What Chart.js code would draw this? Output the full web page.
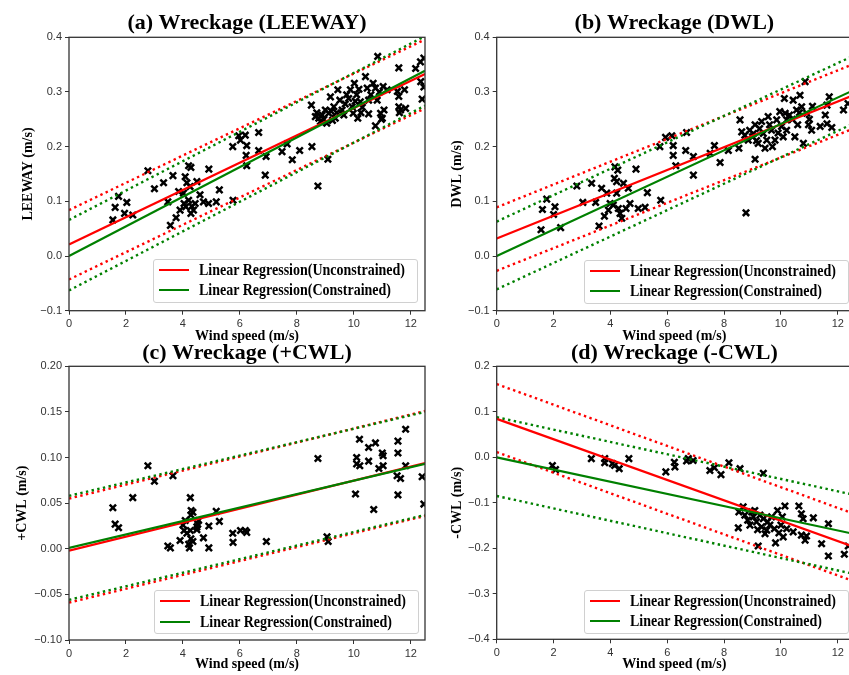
<!DOCTYPE html>
<html>
<head>
<meta charset="utf-8">
<script src="https://cdn.jsdelivr.net/npm/chart.js@4.4.1/dist/chart.umd.min.js"></script>
<style>
    html, body {
        margin: 0;
        padding: 0;
        width: 849px;
        height: 675px;
        overflow: hidden;
        background: #ffffff;
    }
    canvas {
        position: absolute;
    }
    .legend {
        position: absolute;
        box-sizing: border-box;
        width: 265px;
        height: 44px;
        border: 1px solid #d0d0d0;
        border-radius: 3px;
        background: rgba(255, 255, 255, 0.85);
        font: bold 16px "Liberation Serif", "Times New Roman", serif;
        color: #000;
    }
    .legend .row {
        position: absolute;
        left: 0;
        height: 20px;
        line-height: 20px;
        white-space: nowrap;
    }
    .legend .swatch {
        position: absolute;
        left: 5px;
        top: 9px;
        width: 30px;
        height: 2px;
    }
    .legend .text {
        position: absolute;
        left: 45px;
        top: 0;
        transform: scaleX(0.875);
        transform-origin: 0 50%;
    }
</style>
</head>
<body>
<canvas id="chartLeeway" width="432" height="345" style="left:0px;top:0px"></canvas>
<canvas id="chartDwl" width="432" height="345" style="left:428px;top:0px"></canvas>
<canvas id="chartPosCwl" width="432" height="345" style="left:0px;top:330px"></canvas>
<canvas id="chartNegCwl" width="432" height="345" style="left:428px;top:330px"></canvas>

<script>
// Shared x axis
const windTicks = [0, 2, 4, 6, 8, 10, 12];
const lineX = [0, 12.5];

// (a) LEEWAY
const windA = [1.54, 1.62, 1.74, 2.03, 1.95, 2.24, 2.77, 3.00, 3.32, 3.65, 3.47, 3.56, 3.76, 3.90, 3.85,
    4.08, 4.20, 4.28, 4.14, 4.25, 4.02, 4.04, 4.10, 4.20, 4.31, 4.28, 4.37, 4.43, 4.49, 4.60, 4.72, 4.90,
    4.91, 5.17, 5.28, 5.76, 5.75, 5.96, 6.02, 6.19, 6.24, 6.22, 6.24, 6.66, 6.66, 6.92, 6.89, 7.48, 7.66,
    7.84, 8.10, 8.53, 8.74, 9.09, 8.51,
    8.65, 8.77, 8.89, 8.83, 9.00, 9.12, 9.18, 9.30, 9.35, 9.44, 9.51, 9.59, 9.65, 9.82, 9.88, 9.94, 9.98,
    10.02, 10.10, 10.14, 10.18, 10.23, 10.41, 10.47, 10.52, 10.52, 10.68, 10.76, 10.82, 10.76, 10.84, 10.94,
    11.00, 11.06, 11.03, 11.17, 11.58, 11.53, 11.58, 11.64, 11.58, 11.78, 11.82, 12.17, 12.34, 12.46, 12.46, 12.40,
    8.70, 8.95, 9.05, 9.20, 9.25, 9.40, 9.70, 9.75, 10.05, 10.25, 10.30, 10.60, 10.90, 11.60, 12.35, 10.97];
const leewaySpeed = [0.066, 0.089, 0.109, 0.098, 0.078, 0.075, 0.156, 0.123, 0.134, 0.147, 0.099, 0.056, 0.070, 0.084, 0.118,
    0.145, 0.165, 0.162, 0.134, 0.127, 0.115, 0.096, 0.090, 0.102, 0.091, 0.078, 0.084, 0.096, 0.136, 0.112, 0.099, 0.096,
    0.159, 0.099, 0.121, 0.102, 0.200, 0.220, 0.212, 0.221, 0.202, 0.184, 0.165, 0.226, 0.193, 0.182, 0.148, 0.191, 0.205,
    0.176, 0.193, 0.200, 0.128, 0.177, 0.276,
    0.255, 0.252, 0.258, 0.246, 0.267, 0.261, 0.291, 0.273, 0.252, 0.304, 0.285, 0.267, 0.258, 0.288, 0.304, 0.273, 0.261,
    0.316, 0.295, 0.252, 0.305, 0.282, 0.328, 0.307, 0.285, 0.260, 0.316, 0.307, 0.285, 0.238, 0.365, 0.261,
    0.252, 0.267, 0.310, 0.304, 0.344, 0.301, 0.273, 0.267, 0.292, 0.304, 0.270, 0.343, 0.355, 0.362, 0.309, 0.287,
    0.262, 0.250, 0.243, 0.265, 0.248, 0.262, 0.278, 0.295, 0.283, 0.262, 0.272, 0.295, 0.300, 0.262, 0.319, 0.250];
const leewayTicks = [-0.1, 0.0, 0.1, 0.2, 0.3, 0.4];
const leewayUncon = [0.021, 0.333];
const leewayCon = [0.0, 0.339];
const leewayUnconUpper = [0.084, 0.396];
const leewayUnconLower = [-0.043, 0.270];
const leewayConUpper = [0.066, 0.402];
const leewayConLower = [-0.063, 0.275];

// (b) DWL
const windB = [1.56, 1.61, 1.76, 2.05, 2.00, 2.25, 2.82, 3.03, 3.34, 3.48, 3.60, 3.69, 3.79, 3.87, 3.99,
    3.93, 4.16, 4.26, 4.14, 4.22, 4.10, 4.22, 4.28, 4.40, 4.34, 4.46, 4.55, 4.63, 4.69, 4.90,
    4.98, 5.22, 5.30, 5.77, 5.74, 5.94, 6.16, 6.21, 6.21, 6.30, 6.68, 6.65, 6.92, 6.92, 7.51,
    7.66, 7.86, 8.15, 8.52, 8.56, 8.77, 9.09,
    8.62, 8.73, 8.85, 9.03, 9.09, 9.14, 9.20, 9.32, 9.38, 9.44, 9.50, 9.55, 9.67, 9.79, 9.85,
    9.96, 10.02, 10.08, 10.12, 10.15, 10.20, 10.20, 10.43, 10.49, 10.55, 10.59, 10.67, 10.73, 10.79, 10.85,
    10.91, 10.97, 11.08, 11.11, 11.38, 11.56, 11.62, 11.70, 11.62, 11.79, 12.20, 12.36,
    8.90, 9.25, 9.60, 9.90, 10.30, 10.40, 10.65, 11.00, 9.00, 9.70];
const dwlSpeed = [0.048, 0.085, 0.104, 0.090, 0.076, 0.052, 0.128, 0.098, 0.133, 0.098, 0.055, 0.124, 0.073, 0.115, 0.096,
    0.084, 0.163, 0.157, 0.142, 0.136, 0.093, 0.115, 0.087, 0.069, 0.078, 0.133, 0.087, 0.124, 0.096, 0.159,
    0.087, 0.089, 0.116, 0.102, 0.200, 0.217, 0.220, 0.202, 0.184, 0.165, 0.226, 0.193, 0.182, 0.148, 0.188,
    0.202, 0.171, 0.193, 0.197, 0.249, 0.079, 0.177,
    0.227, 0.221, 0.212, 0.224, 0.240, 0.211, 0.206, 0.246, 0.224, 0.197, 0.212, 0.255, 0.230, 0.212, 0.249,
    0.264, 0.237, 0.218, 0.288, 0.261, 0.249, 0.230, 0.285, 0.218, 0.267, 0.240, 0.294, 0.273, 0.206, 0.319,
    0.261, 0.240, 0.230, 0.274, 0.237, 0.258, 0.276, 0.291, 0.242, 0.235, 0.267, 0.279,
    0.230, 0.233, 0.240, 0.225, 0.258, 0.250, 0.262, 0.250, 0.218, 0.200];
const dwlTicks = [-0.1, 0.0, 0.1, 0.2, 0.3, 0.4];
const dwlUncon = [0.032, 0.293];
const dwlCon = [0.0, 0.302];
const dwlUnconUpper = [0.089, 0.350];
const dwlUnconLower = [-0.027, 0.232];
const dwlConUpper = [0.063, 0.365];
const dwlConLower = [-0.061, 0.241];

// (c) +CWL
const windC = [1.54, 1.62, 1.74, 2.24, 2.77, 3.00, 3.65, 3.47, 3.56, 3.90, 4.00, 4.08, 4.04, 4.14, 4.20,
    4.26, 4.29, 4.35, 4.28, 4.26, 4.28, 4.23, 4.35, 4.49, 4.52, 4.55, 4.49, 4.72, 4.91, 4.91,
    5.17, 5.28, 5.75, 5.76, 6.02, 6.19, 6.24, 6.93, 8.74, 9.06, 9.10, 10.10, 10.10, 10.06, 10.21,
    10.20, 10.52, 10.52, 10.76, 10.70, 10.88, 11.00, 11.03, 11.03, 11.55, 11.55, 11.52, 11.55, 11.64, 11.82,
    11.82, 12.40, 12.46];
const posCwlSpeed = [0.045, 0.027, 0.023, 0.056, 0.091, 0.074, 0.080, 0.003, 0.001, 0.009, 0.026, 0.031, 0.020, 0.017, 0.005,
    0.056, 0.042, 0.040, 0.037, 0.020, 0.011, 0.001, 0.008, 0.024, 0.027, 0.031, 0.021, 0.012, 0.025, 0.001,
    0.041, 0.030, 0.017, 0.007, 0.020, 0.020, 0.018, 0.008, 0.099, 0.013, 0.008, 0.100, 0.093, 0.060, 0.091,
    0.120, 0.111, 0.096, 0.116, 0.043, 0.088, 0.105, 0.102, 0.091, 0.118, 0.105, 0.080, 0.059, 0.077, 0.131,
    0.091, 0.079, 0.049];
const posCwlTicks = [-0.10, -0.05, 0.00, 0.05, 0.10, 0.15, 0.20];
const posCwlUncon = [-0.002, 0.094];
const posCwlCon = [0.001, 0.093];
const posCwlUnconUpper = [0.055, 0.151];
const posCwlUnconLower = [-0.059, 0.036];
const posCwlConUpper = [0.058, 0.150];
const posCwlConLower = [-0.056, 0.037];

// (d) -CWL
const windD = [1.96, 2.07, 3.33, 3.80, 3.80, 4.07, 4.15, 4.31, 4.65, 5.95, 6.25, 6.27, 6.68, 6.74, 6.91,
    7.50, 7.66, 7.89, 8.17, 8.56, 9.38,
    8.52, 8.50, 8.67, 8.73, 8.83, 8.91, 8.97, 9.03, 9.08, 9.14, 9.18, 9.20, 9.26, 9.32, 9.38,
    9.44, 9.50, 9.53, 9.61, 9.67, 9.77, 9.81, 9.88, 9.93, 10.00, 10.05, 10.08, 10.14, 10.20, 10.43,
    10.63, 10.72, 10.78, 10.72, 10.85, 10.90, 11.14, 11.43, 11.67, 11.67, 12.23, 12.37];
const negCwlSpeed = [-0.018, -0.027, -0.003, -0.003, -0.012, -0.014, -0.018, -0.025, -0.003, -0.032, -0.011, -0.021, -0.008, -0.003, -0.007,
    -0.029, -0.023, -0.038, -0.012, -0.025, -0.035,
    -0.120, -0.155, -0.109, -0.127, -0.138, -0.149, -0.120, -0.131, -0.117, -0.142, -0.159, -0.195, -0.127, -0.153, -0.135,
    -0.168, -0.160, -0.142, -0.149, -0.131, -0.157, -0.188, -0.117, -0.166, -0.149, -0.131, -0.175, -0.107, -0.157, -0.164,
    -0.107, -0.124, -0.135, -0.171, -0.182, -0.173, -0.133, -0.190, -0.146, -0.217, -0.213, -0.195];
const negCwlTicks = [-0.4, -0.3, -0.2, -0.1, 0.0, 0.1, 0.2];
const negCwlUncon = [0.0845, -0.1955];
const negCwlCon = [0.0, -0.1675];
const negCwlUnconUpper = [0.161, -0.1225];
const negCwlUnconLower = [0.0114, -0.271];
const negCwlConUpper = [0.088, -0.0815];
const negCwlConLower = [-0.085, -0.2555];

const RED = '#ff0000';
const GREEN = '#008000';
const AXIS_COLOR = '#333333';

Chart.defaults.font.family = '"Liberation Sans", Arial, sans-serif';
Chart.defaults.color = AXIS_COLOR;

// Draws the box around the plot area (matplotlib spines)
const frameBorder = {
    id: 'frameBorder',
    afterDatasetsDraw(chart) {
        const { ctx, chartArea } = chart;
        ctx.save();
        ctx.strokeStyle = AXIS_COLOR;
        ctx.lineWidth = 1.3;
        ctx.strokeRect(chartArea.left, chartArea.top, chartArea.right - chartArea.left, chartArea.bottom - chartArea.top);
        ctx.restore();
    }
};

function toPoints(xs, ys) {
    return xs.map((x, i) => ({ x: x, y: ys[i] }));
}

function lineDataset(label, values, color, dotted, order) {
    return {
        label: label,
        data: toPoints(lineX, values),
        showLine: true,
        borderColor: color,
        backgroundColor: color,
        borderWidth: dotted ? 2.4 : 2.2,
        borderDash: dotted ? [2.4, 3.4] : [],
        pointRadius: 0,
        pointHoverRadius: 0,
        order: order
    };
}

function formatTick(value, decimals) {
    return value.toFixed(decimals).replace('-', '\u2212');
}

function createPanelChart(canvasId, panel) {
    var ctx = document.getElementById(canvasId).getContext('2d');

    var datasets = [
        lineDataset('Linear Regression(Unconstrained)', panel.uncon, RED, false, 2),
        lineDataset('Linear Regression(Constrained)', panel.con, GREEN, false, 1),
        lineDataset(null, panel.unconUpper, RED, true, 4),
        lineDataset(null, panel.unconLower, RED, true, 4),
        lineDataset(null, panel.conUpper, GREEN, true, 3),
        lineDataset(null, panel.conLower, GREEN, true, 3),
        {
            label: null,
            data: toPoints(panel.wind, panel.speed),
            pointStyle: 'crossRot',
            pointRadius: 4.5,
            pointBorderWidth: 2.5,
            borderColor: '#000000',
            backgroundColor: '#000000',
            showLine: false,
            order: 10
        }
    ];

    var chart = new Chart(ctx, {
        type: 'scatter',
        data: { datasets: datasets },
        options: {
            responsive: false,
            animation: false,
            events: [],
            layout: {
                padding: { top: 0, left: 0, right: panel.padRight, bottom: 0 }
            },
            scales: {
                x: {
                    type: 'linear',
                    min: 0,
                    max: 12.5,
                    afterBuildTicks: (scale) => { scale.ticks = windTicks.map(v => ({ value: v })); },
                    afterFit: (scale) => { scale.height = panel.xAxisHeight; },
                    ticks: {
                        font: { size: 11 },
                        color: AXIS_COLOR,
                        padding: 3,
                        maxRotation: 0,
                        callback: (value) => String(value)
                    },
                    grid: { drawOnChartArea: false, drawTicks: true, tickLength: 4, color: AXIS_COLOR },
                    border: { display: false },
                    title: {
                        display: true,
                        text: 'Wind speed (m/s)',
                        color: '#000000',
                        font: { family: '"Liberation Serif", "Times New Roman", serif', size: 14, weight: 'bold' },
                        padding: { top: 0, bottom: panel.xTitlePad }
                    }
                },
                y: {
                    type: 'linear',
                    min: panel.yTicks[0],
                    max: panel.yTicks[panel.yTicks.length - 1],
                    afterBuildTicks: (scale) => { scale.ticks = panel.yTicks.map(v => ({ value: v })); },
                    afterFit: (scale) => { scale.width = panel.yAxisWidth; },
                    ticks: {
                        font: { size: 11 },
                        color: AXIS_COLOR,
                        padding: 3,
                        callback: (value) => formatTick(value, panel.decimals)
                    },
                    grid: { drawOnChartArea: false, drawTicks: true, tickLength: 4, color: AXIS_COLOR },
                    border: { display: false },
                    title: {
                        display: true,
                        text: panel.yLabel,
                        color: '#000000',
                        font: { family: '"Liberation Serif", "Times New Roman", serif', size: 14, weight: 'bold' },
                        padding: { top: panel.yTitlePad, bottom: 0 }
                    }
                }
            },
            plugins: {
                legend: { display: false },
                tooltip: { enabled: false },
                title: {
                    display: true,
                    fullSize: false,
                    text: panel.title,
                    color: '#000000',
                    font: { family: '"Liberation Serif", "Times New Roman", serif', size: 22, weight: 'bold' },
                    padding: { top: panel.titlePadTop, bottom: panel.titlePadBottom }
                }
            }
        },
        plugins: [frameBorder]
    });

    createLegend(chart, canvasId, panel);
    return chart;
}

// Legend box drawn as HTML text inside the lower right part of the plot
function createLegend(chart, canvasId, panel) {
    var canvas = document.getElementById(canvasId);
    var area = chart.chartArea;
    var box = document.createElement('div');
    box.className = 'legend';
    box.style.left = (canvas.offsetLeft + area.left + panel.legendLeft) + 'px';
    box.style.top = (canvas.offsetTop + area.bottom - panel.legendBottom - 44) + 'px';

    var entries = chart.data.datasets.filter(ds => ds.label);
    entries.forEach((ds, i) => {
        var row = document.createElement('div');
        row.className = 'row';
        row.style.top = (i * 20.5) + 'px';
        var swatch = document.createElement('span');
        swatch.className = 'swatch';
        swatch.style.background = ds.borderColor;
        var text = document.createElement('span');
        text.className = 'text';
        text.textContent = ds.label;
        row.appendChild(swatch);
        row.appendChild(text);
        box.appendChild(row);
    });
    document.body.appendChild(box);
}

createPanelChart('chartLeeway', {
    title: '(a) Wreckage (LEEWAY)', yLabel: 'LEEWAY (m/s)',
    wind: windA, speed: leewaySpeed, yTicks: leewayTicks, decimals: 1,
    uncon: leewayUncon, con: leewayCon,
    unconUpper: leewayUnconUpper, unconLower: leewayUnconLower,
    conUpper: leewayConUpper, conLower: leewayConLower,
    padRight: 7, yAxisWidth: 69, xAxisHeight: 34.3, xTitlePad: 0, yTitlePad: 19.6,
    titlePadTop: 10.4, titlePadBottom: 0.5, legendLeft: 84, legendBottom: 8
});

createPanelChart('chartDwl', {
    title: '(b) Wreckage (DWL)', yLabel: 'DWL (m/s)',
    wind: windB, speed: dwlSpeed, yTicks: dwlTicks, decimals: 1,
    uncon: dwlUncon, con: dwlCon,
    unconUpper: dwlUnconUpper, unconLower: dwlUnconLower,
    conUpper: dwlConUpper, conLower: dwlConLower,
    padRight: 8, yAxisWidth: 68.7, xAxisHeight: 34.3, xTitlePad: 0, yTitlePad: 20.6,
    titlePadTop: 10.4, titlePadBottom: 0.5, legendLeft: 87, legendBottom: 7
});

createPanelChart('chartPosCwl', {
    title: '(c) Wreckage (+CWL)', yLabel: '+CWL (m/s)',
    wind: windC, speed: posCwlSpeed, yTicks: posCwlTicks, decimals: 2,
    uncon: posCwlUncon, con: posCwlCon,
    unconUpper: posCwlUnconUpper, unconLower: posCwlUnconLower,
    conUpper: posCwlConUpper, conLower: posCwlConLower,
    padRight: 7, yAxisWidth: 69, xAxisHeight: 35, xTitlePad: 2.6, yTitlePad: 13.6,
    titlePadTop: 9.9, titlePadBottom: 0, legendLeft: 85, legendBottom: 6
});

createPanelChart('chartNegCwl', {
    title: '(d) Wreckage (-CWL)', yLabel: '-CWL (m/s)',
    wind: windD, speed: negCwlSpeed, yTicks: negCwlTicks, decimals: 1,
    uncon: negCwlUncon, con: negCwlCon,
    unconUpper: negCwlUnconUpper, unconLower: negCwlUnconLower,
    conUpper: negCwlConUpper, conLower: negCwlConLower,
    padRight: 8, yAxisWidth: 68.7, xAxisHeight: 35.7, xTitlePad: 2.3, yTitlePad: 20.6,
    titlePadTop: 9.9, titlePadBottom: 0, legendLeft: 87, legendBottom: 5.5
});
</script>
</body>
</html>
